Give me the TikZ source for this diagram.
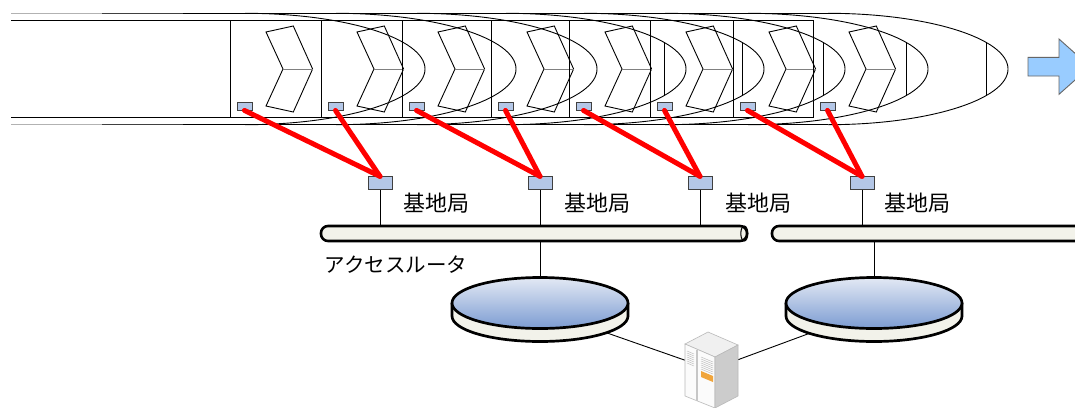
\documentclass[tikz,border=0pt]{standalone}
\usepackage{fontspec}
\setmainfont{Noto Sans CJK JP}
\usepackage{xcolor}
\usepackage{tikz}
\usetikzlibrary{shapes.geometric,calc}
\definecolor{antblue}{HTML}{B4C7E7}
\definecolor{diskhi}{HTML}{E3E9F4}
\definecolor{disklo}{HTML}{7C9CD2}
\definecolor{pipe}{HTML}{F2F2EA}
\definecolor{arrowblue}{HTML}{99CCFF}
\definecolor{srvorange}{HTML}{F0A53C}

\begin{document}
\begin{tikzpicture}[x=1pt, y=-1pt, every node/.style={font=\fontsize{22}{26}\selectfont}, wire/.style={line width=0.9}, ant/.style={draw=black!75, fill=antblue, minimum width=15, minimum height=7.5, inner sep=0, line width=0.8}, bs/.style={draw=black!75, fill=antblue, minimum width=24, minimum height=12.5, inner sep=0, line width=0.8}, bus/.style={draw, line width=2.6, fill=pipe, rounded corners=7, minimum height=15, inner sep=0}, disk/.style={ellipse, minimum width=176, minimum height=64, inner sep=0}, radio/.style={red, line width=5, line cap=round}, thickline/.style={line width=2.7}]
\path[use as bounding box, fill=white] (0,0) rectangle (1075,407);
% train body
\draw[line width=1.1, gray!60] (11,13.3) -- (102,13.3) (11,124.7) -- (102,124.7);
\draw[line width=1.1, black!75] (102,13.3) -- (183,13.3) (102,124.7) -- (183,124.7);
\draw[line width=1.1] (183,13.3) -- (828,13.3) (183,124.7) -- (828,124.7);
\draw[wire] (11,20.3) -- (813,20.3) (11,117.7) -- (813,117.7);
\foreach \x [count=\i] in {230,321,402,491,569,650,733,813} {
  \draw[wire] (\x,20.3) -- (\x,117.7);
  \draw[wire] (\x+15,13.3) arc[start angle=-90, end angle=90, x radius=180, y radius=55.7];
  \draw[wire] (\x+36,32) -- (\x+63.3,26) -- (\x+82.6,69) -- (\x+63.3,112) -- (\x+36,106) -- (\x+53,69) -- cycle;
  \draw[wire, gray] (\x+53,69) -- (\x+82.6,69);
  \node[ant] (ant\i) at (\x+14.5,106.3) {};
}
\foreach \x in {491,569,650,733,813} \draw[wire] (\x+173,42.3) -- (\x+173,95.7);
\draw[fill=arrowblue, draw=black!60, line width=0.9] (1028,57.3) -- (1059,57.3) -- (1059,39) -- (1090,66.7) -- (1059,94.3) -- (1059,76) -- (1028,76) -- cycle;
% base stations and access routers
\node[bs] (bs1) at (380,183) {};
\node[bs] (bs2) at (540,183) {};
\node[bs] (bs3) at (700,183) {};
\node[bs] (bs4) at (862,183) {};
\node (bslabel1) at (436,203) {基地局};
\node (bslabel2) at (597,203) {基地局};
\node (bslabel3) at (758,203) {基地局};
\node (bslabel4) at (917.5,203) {基地局};
\node[bus, minimum width=426] (bus1) at (534,233.5) {};
\node[bus, minimum width=320] (bus2) at (932,233.5) {};
\draw[line width=1] ([xshift=-4]bus1.east) ellipse[x radius=3.5, y radius=7.5];
\node[font=\fontsize{20.5}{24}\selectfont] (routerlabel) at (396,265) {アクセスルータ};
\draw[wire] (bs1.south) -- (bs1.south |- bus1.north); \draw[wire] (bs2.south) -- (bs2.south |- bus1.north); \draw[wire] (bs3.south) -- (bs3.south |- bus1.north); \draw[wire] (bs4.south) -- (bs4.south |- bus2.north);
\draw[radio] (ant1.south) -- (bs1.north); \draw[radio] (ant2.south) -- (bs1.north); \draw[radio] (ant3.south) -- (bs2.north); \draw[radio] (ant4.south) -- (bs2.north);
\draw[radio] (ant5.south) -- (bs3.north); \draw[radio] (ant6.south) -- (bs3.north); \draw[radio] (ant7.south) -- (bs4.north); \draw[radio] (ant8.south) -- (bs4.north);
% networks and server
\node[disk] (disk1) at (540,309.5) {};
\node[disk] (disk2) at (874,309.5) {};
\node[minimum width=53, minimum height=75, inner sep=0] (srv) at (711.5,369.5) {};
\draw[wire] (disk1.north) -- (disk1.north |- bus1.south); \draw[wire] (disk2.north) -- (disk2.north |- bus2.south);
\draw[wire] (disk1) -- (srv); \draw[wire] (disk2) -- (srv);
\foreach \c in {540,874} {
  \draw[thickline, fill=pipe] (\c-88,303) -- (\c-88,316) arc[start angle=180, end angle=0, x radius=88, y radius=25.5] -- (\c+88,303);
  \draw[thickline, top color=diskhi, bottom color=disklo] (\c,303) ellipse[x radius=88, y radius=25.5];
}
\draw[draw=gray!55, fill=gray!12, line width=0.6] (685,344) -- (708,332) -- (738,345) -- (715,357) -- cycle;
\draw[draw=gray!55, fill=gray!3, line width=0.6] (685,344) -- (715,357) -- (715,408) -- (685,396) -- cycle;
\draw[draw=gray!55, fill=gray!40, line width=0.6] (715,357) -- (738,345) -- (738,396) -- (715,408) -- cycle;
\draw[gray!45, line width=1.6] (697,350) -- (697,401);
\foreach \v in {0,2,...,12} \draw[gray!50, line width=0.5] (687,351+\v) -- (694,354+\v);
\foreach \v in {0,2,...,12} \draw[gray!50, line width=0.5] (701,357+\v) -- (713,362+\v);
\fill[srvorange] (701,371) -- (713,376) -- (713,382) -- (701,377) -- cycle;
\end{tikzpicture}
\end{document}
